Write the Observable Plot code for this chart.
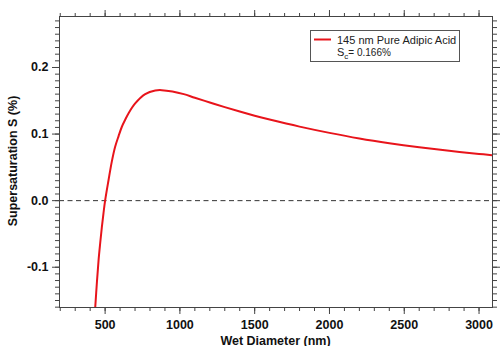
<!DOCTYPE html>
<html>
<head>
<meta charset="utf-8">
<script src="https://cdn.jsdelivr.net/npm/d3@7"></script>
<script src="https://cdn.jsdelivr.net/npm/@observablehq/plot@0.6"></script>
<style>
  html, body { margin: 0; padding: 0; background: #fff; }
  #chart svg { display: block; }
</style>
</head>
<body>
<div id="chart"></div>
<script>
// Köhler curve for a 145 nm dry adipic acid particle
const wetDiameter = [434, 445, 456, 467, 478, 489, 500, 523, 545, 567, 590, 612, 634, 656, 701, 768, 835, 879, 950, 1026, 1100, 1200, 1300, 1400, 1500, 1600, 1800, 2000, 2200, 2400, 2600, 2800, 3000, 3090];
const supersaturation = [-0.160, -0.123, -0.090, -0.064, -0.040, -0.019, 0.000, 0.031, 0.059, 0.081, 0.097, 0.111, 0.1215, 0.131, 0.146, 0.160, 0.1655, 0.166, 0.164, 0.160, 0.1545, 0.1475, 0.1405, 0.1338, 0.1275, 0.1218, 0.1112, 0.1018, 0.0934, 0.0863, 0.0802, 0.0749, 0.0702, 0.0682];

const xMajorTicks = [500, 1000, 1500, 2000, 2500, 3000];
const yMajorTicks = [-0.1, 0.0, 0.1, 0.2];

const seriesName = "145 nm Pure Adipic Acid";
const criticalLabel = "0.166%";

const curve = wetDiameter.map((d, i) => ({d, s: supersaturation[i]}));

// minor tick positions: every 100 nm and every 0.01 %
const xMinor = d3.range(200, 3001, 100);
const yMinor = d3.range(-16, 28).map(k => k / 100);

const width = 500, height = 346;
const tickColor = "#444";
const minorSize = 4, majorSize = 7;

const plot = Plot.plot({
  width, height,
  marginLeft: 59, marginRight: 8, marginTop: 16, marginBottom: 39,
  style: {fontFamily: "'Liberation Sans', Arial, sans-serif", fontSize: "12.5px", fontWeight: "bold", color: "#111", background: "#fff"},
  x: {domain: [195, 3090], axis: null},
  y: {domain: [-0.1605, 0.2766], axis: null},
  marks: [
    Plot.ruleY([0], {stroke: "#333", strokeWidth: 1, strokeDasharray: "5,3.5"}),
    Plot.line(curve, {x: "d", y: "s", stroke: "#e8141b", strokeWidth: 2, curve: "catmull-rom", clip: true}),
    // minor ticks on all four sides
    Plot.axisX(xMinor, {anchor: "bottom", tickSize: minorSize, text: null, label: null, stroke: tickColor}),
    Plot.axisX(xMinor, {anchor: "top", tickSize: minorSize, text: null, label: null, stroke: tickColor}),
    Plot.axisY(yMinor, {anchor: "left", tickSize: minorSize, text: null, label: null, stroke: tickColor}),
    Plot.axisY(yMinor, {anchor: "right", tickSize: minorSize, text: null, label: null, stroke: tickColor}),
    // major ticks, labelled on bottom and left
    Plot.axisX(xMajorTicks, {anchor: "bottom", tickSize: majorSize, tickPadding: 6, label: null, stroke: tickColor, fill: "#111", tickFormat: d => String(d)}),
    Plot.axisX(xMajorTicks, {anchor: "top", tickSize: majorSize, text: null, label: null, stroke: tickColor}),
    Plot.axisY(yMajorTicks, {anchor: "left", tickSize: majorSize, tickPadding: 4, label: null, stroke: tickColor, fill: "#111", tickFormat: d => d.toFixed(1)}),
    Plot.axisY(yMajorTicks, {anchor: "right", tickSize: majorSize, text: null, label: null, stroke: tickColor}),
    Plot.frame({stroke: "#444", strokeWidth: 1})
  ]
});

const svg = d3.select(plot);

// axis titles
svg.append("text")
  .attr("x", 275.5).attr("y", 344.5)
  .attr("text-anchor", "middle")
  .attr("font-weight", "bold").attr("font-size", 12.5).attr("fill", "#111")
  .text("Wet Diameter (nm)");

svg.append("text")
  .attr("transform", "translate(17,161) rotate(-90)")
  .attr("text-anchor", "middle")
  .attr("font-weight", "bold").attr("font-size", 12.5).attr("fill", "#111")
  .text("Supersaturation S (%)");

// legend box
const lg = svg.append("g").attr("font-weight", "normal").attr("text-anchor", "start");
lg.append("rect")
  .attr("x", 310.5).attr("y", 30.5).attr("width", 149).attr("height", 31)
  .attr("fill", "#fff").attr("stroke", "#555").attr("stroke-width", 1);
lg.append("line")
  .attr("x1", 314).attr("x2", 331).attr("y1", 39.5).attr("y2", 39.5)
  .attr("stroke", "#e8141b").attr("stroke-width", 2);
lg.append("text")
  .attr("x", 337).attr("y", 43.5)
  .attr("font-size", 11).attr("fill", "#222")
  .text(seriesName);
const sc = lg.append("text")
  .attr("x", 337).attr("y", 56)
  .attr("font-size", 10).attr("fill", "#222");
sc.append("tspan").attr("font-size", 11).text("S");
sc.append("tspan").attr("font-size", 8).attr("dy", 3).text("c");
sc.append("tspan").attr("dy", -3).text("= " + criticalLabel);

document.getElementById("chart").appendChild(plot);
</script>
</body>
</html>
